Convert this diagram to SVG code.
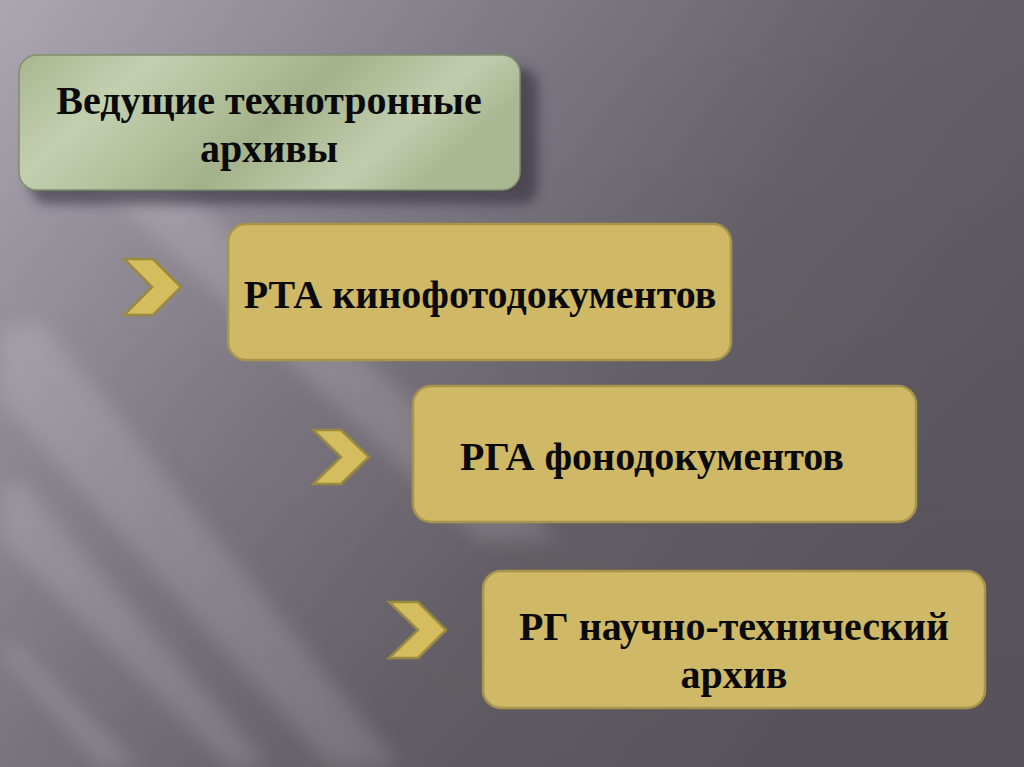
<svg xmlns="http://www.w3.org/2000/svg" width="1024" height="767" viewBox="0 0 1024 767">
<defs>
  <linearGradient id="bg" x1="0" y1="0" x2="1" y2="0.5">
    <stop offset="0" stop-color="#aca6b1"/>
    <stop offset="0.4" stop-color="#817b86"/>
    <stop offset="0.7" stop-color="#676169"/>
    <stop offset="1" stop-color="#5d5860"/>
  </linearGradient>
  <linearGradient id="bgv" x1="0" y1="0" x2="0" y2="1">
    <stop offset="0" stop-color="#000" stop-opacity="0"/>
    <stop offset="1" stop-color="#000" stop-opacity="0.06"/>
  </linearGradient>
  <linearGradient id="green" x1="0" y1="0" x2="1" y2="0.3">
    <stop offset="0" stop-color="#a7b690"/>
    <stop offset="0.25" stop-color="#c3d0b0"/>
    <stop offset="0.6" stop-color="#a3b28a"/>
    <stop offset="0.85" stop-color="#c1cdae"/>
    <stop offset="1" stop-color="#a9b892"/>
  </linearGradient>
  <filter id="blur" x="-20%" y="-20%" width="140%" height="140%">
    <feGaussianBlur stdDeviation="10"/>
  </filter>
  <filter id="shadow" x="-10%" y="-20%" width="130%" height="150%">
    <feGaussianBlur stdDeviation="6"/>
  </filter>
  <style>
    .gold { fill: #cfb966; stroke: #a8944a; stroke-width: 2.5; }
    .chev { fill: #d4bd5e; stroke: #9a8a40; stroke-width: 2.5; stroke-linejoin: miter; }
    .green { fill: url(#green); stroke: #7f8f6c; stroke-width: 1.5; }
    .t { font-family: "Liberation Serif", "Times New Roman", serif; font-weight: bold; font-size: 40px; fill: #0a0a0a; text-anchor: middle; }
    .sh { fill: #2a2630; opacity: 0.55; }
  </style>
</defs>

<g id="background">
  <rect width="1024" height="767" fill="url(#bg)"/>
  <rect width="1024" height="767" fill="url(#bgv)"/>
  <g filter="url(#blur)" opacity="0.14" fill="#ffffff">
    <polygon points="0,330 40,320 400,767 330,767 0,400"/>
    <polygon points="0,490 20,480 270,767 230,767 0,540"/>
    <polygon points="40,130 120,130 560,540 480,540"/>
    <polygon points="0,650 15,645 140,767 100,767"/>
  </g>
</g>

<g id="node-main">
  <rect class="sh" x="30" y="68" width="508" height="136" rx="18" filter="url(#shadow)"/>
  <rect class="green" x="19" y="55" width="501" height="135" rx="18"/>
  <text class="t" x="269" y="114">Ведущие технотронные</text>
  <text class="t" x="269" y="162">архивы</text>
</g>

<g id="connectors">
  <polygon class="chev" points="124,259 153,259 181,287 153,315 124,315 152,287"/>
  <polygon class="chev" points="313,430 341,430 369,457 341,484 313,484 341,457"/>
  <polygon class="chev" points="389,602 418,602 446,630 418,658 389,658 418,630"/>
</g>

<g id="node-rta">
  <rect class="gold" x="228" y="224" width="503" height="136" rx="18"/>
  <text class="t" x="480" y="308">РТА кинофотодокументов</text>
</g>

<g id="node-rga">
  <rect class="gold" x="413" y="386" width="503" height="136" rx="18"/>
  <text class="t" x="652" y="470">РГА фонодокументов</text>
</g>

<g id="node-rg">
  <rect class="gold" x="483" y="571" width="502" height="137" rx="18"/>
  <text class="t" x="734" y="640">РГ научно-технический</text>
  <text class="t" x="734" y="688">архив</text>
</g>
</svg>
